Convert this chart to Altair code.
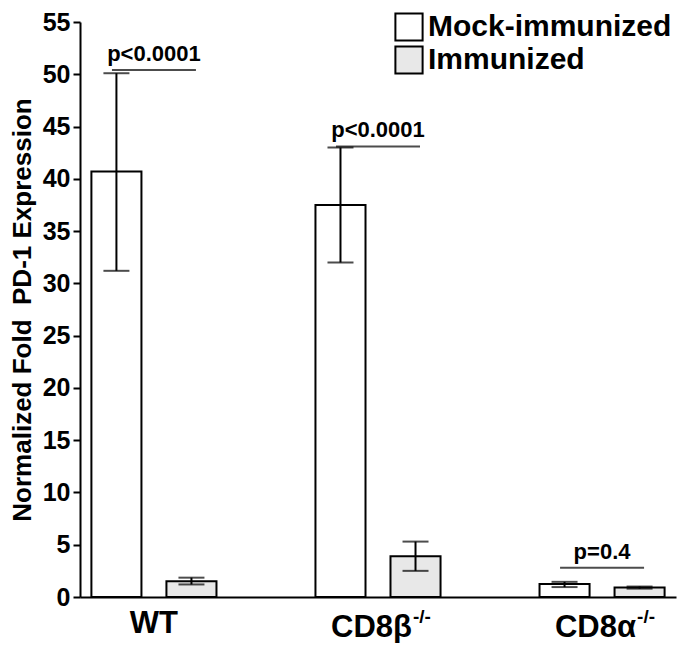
import altair as alt
import pandas as pd

groups = ["WT", "CD8β", "CD8α"]
group_sup = ["", "-/-", "-/-"]
series = ["Mock-immunized", "Immunized"]

mock_mean = [40.7, 37.5, 1.25]
mock_lo = [31.2, 32.0, 0.95]
mock_hi = [50.1, 43.0, 1.45]

imm_mean = [1.5, 3.9, 0.9]
imm_lo = [1.2, 2.5, 0.8]
imm_hi = [1.85, 5.3, 1.0]

p_level = [50.4, 43.1, 2.8]
p_text = ["p<0.0001", "p<0.0001", "p=0.4"]

rows = []
for i, g in enumerate(groups):
    rows.append({"group": g, "series": series[0], "mean": mock_mean[i], "lo": mock_lo[i], "hi": mock_hi[i]})
    rows.append({"group": g, "series": series[1], "mean": imm_mean[i], "lo": imm_lo[i], "hi": imm_hi[i]})
bars_df = pd.DataFrame(rows)
p_df = pd.DataFrame({"group": groups, "level": p_level, "text": p_text})
lab_df = pd.DataFrame({"group": groups, "sup": group_sup})

FONT = "Liberation Sans"
LW = 2

x_axis = alt.Axis(labels=False, ticks=False, title=None, domainColor="black", domainWidth=LW)
x_enc = alt.X("group:N", sort=groups,
              scale=alt.Scale(paddingInner=0.34, paddingOuter=0.0),
              axis=x_axis)
xoff = alt.XOffset("series:N", sort=series,
                   scale=alt.Scale(paddingInner=0.333, paddingOuter=0.152))
y_scale = alt.Scale(domain=[0, 55], nice=False, zero=True)
y_axis = alt.Axis(values=list(range(0, 56, 5)), title="Normalized Fold\u00a0 PD-1 Expression",
                  titleX=-58, titleY=287.5, titleBaseline="middle", titleAlign="center",
                  titleAngle=270)

base = alt.Chart(bars_df)

bars = base.mark_bar(stroke="black", strokeWidth=LW).encode(
    x=x_enc, xOffset=xoff,
    y=alt.Y("mean:Q", scale=y_scale, axis=y_axis),
    fill=alt.Fill("series:N", sort=series,
                  scale=alt.Scale(domain=series, range=["white", "#e8e8e8"]),
                  legend=alt.Legend(title=None, orient="none", legendX=314, legendY=-10,
                                    symbolType="square", symbolSize=740,
                                    symbolStrokeColor="black", symbolStrokeWidth=LW,
                                    labelFont=FONT, labelFontSize=30, labelFontWeight="bold",
                                    labelColor="black", labelOffset=4, rowPadding=-4,
                                    labelLimit=0, padding=0)),
)

err = base.mark_rule(color="black", strokeWidth=LW).encode(
    x=x_enc, xOffset=xoff, y=alt.Y("lo:Q", scale=y_scale, axis=y_axis), y2="hi:Q")
cap_lo = base.mark_tick(color="black", thickness=LW, size=26, orient="horizontal").encode(
    x=x_enc, xOffset=xoff, y=alt.Y("lo:Q", scale=y_scale, axis=y_axis))
cap_hi = base.mark_tick(color="black", thickness=LW, size=26, orient="horizontal").encode(
    x=x_enc, xOffset=xoff, y=alt.Y("hi:Q", scale=y_scale, axis=y_axis))

pbase = alt.Chart(p_df)
plines = pbase.mark_tick(color="black", thickness=LW, size=84, orient="horizontal").encode(
    x=x_enc, y=alt.Y("level:Q", scale=y_scale, axis=y_axis))
ptext = pbase.mark_text(font=FONT, fontSize=22, fontWeight="bold", baseline="alphabetic",
                        dy=-9, color="black").encode(
    x=x_enc, y=alt.Y("level:Q", scale=y_scale, axis=y_axis), text="text:N")

lbase = alt.Chart(lab_df)
lab_plain = lbase.transform_filter("datum.sup == ''").mark_text(
    font=FONT, fontSize=31, fontWeight="bold", baseline="alphabetic", align="center",
    dy=36, color="black").encode(
    x=x_enc, y=alt.Y(datum=0, scale=y_scale, axis=y_axis), text="group:N")
lab_main = lbase.transform_filter("datum.sup != ''").mark_text(
    font=FONT, fontSize=31, fontWeight="bold", baseline="alphabetic", align="right",
    dx=34, dy=40, color="black").encode(
    x=x_enc, y=alt.Y(datum=0, scale=y_scale, axis=y_axis), text="group:N")
lab_sup = lbase.transform_filter("datum.sup != ''").mark_text(
    font=FONT, fontSize=19, fontWeight="bold", baseline="alphabetic", align="left",
    dx=35, dy=26, color="black").encode(
    x=x_enc, y=alt.Y(datum=0, scale=y_scale, axis=y_axis), text="sup:N")

chart = alt.layer(bars, err, cap_lo, cap_hi, plines, ptext, lab_plain, lab_main, lab_sup).properties(
    width=596, height=575,
    padding={"left": 72, "top": 14, "right": 16, "bottom": 46},
    autosize=alt.AutoSizeParams(type="none"),
    background="white",
).configure_view(stroke=None).configure_axis(
    grid=False, labelFont=FONT, labelFontSize=25, labelFontWeight="bold", labelColor="black",
    tickColor="black", tickWidth=LW, tickSize=7, labelPadding=3,
    domainColor="black", domainWidth=LW,
    titleFont=FONT, titleFontSize=26, titleFontWeight="bold", titleColor="black",
)

chart.save("out.html", embed_options={"renderer": "svg", "actions": False})
